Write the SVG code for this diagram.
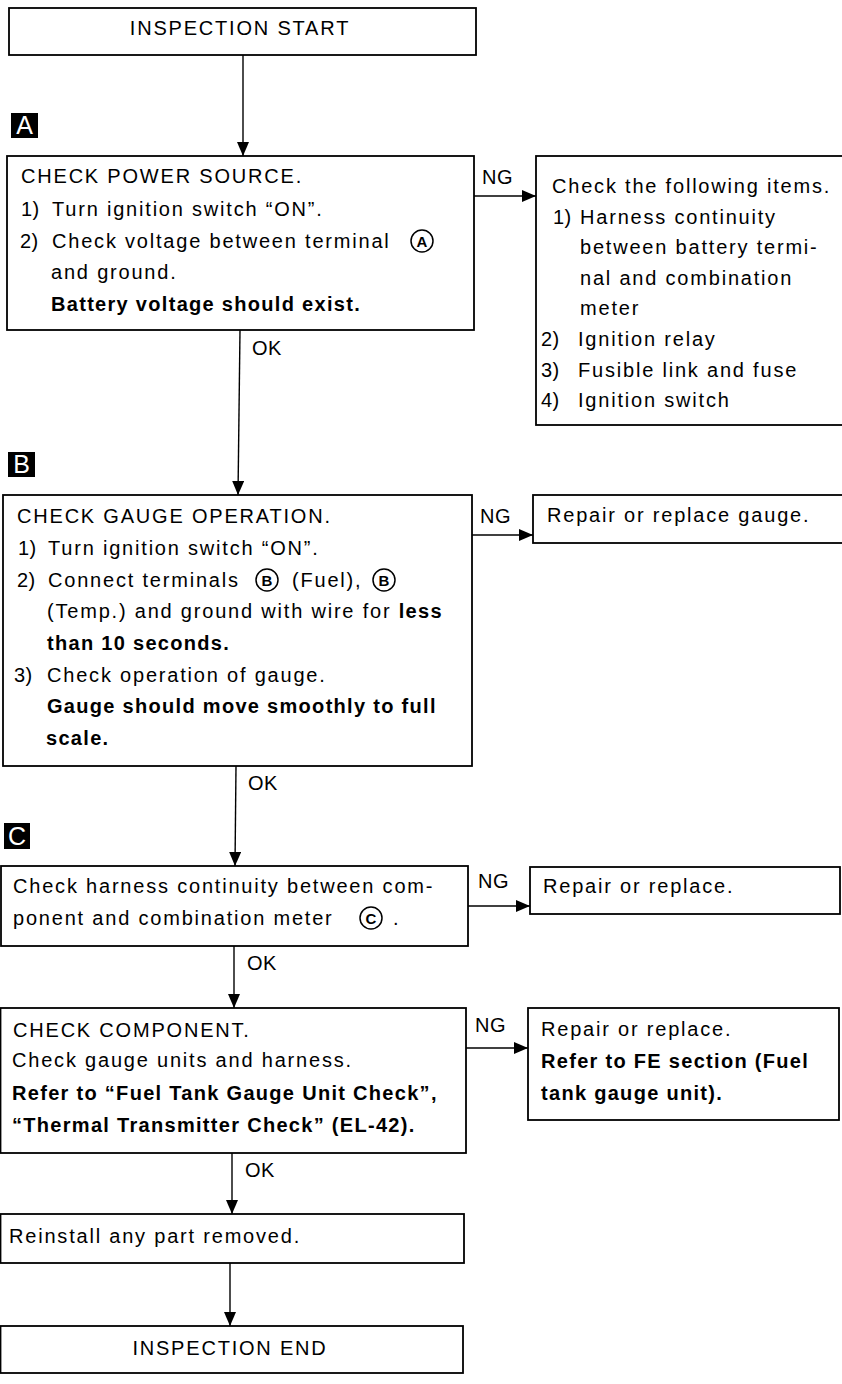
<svg xmlns="http://www.w3.org/2000/svg" width="842" height="1384" viewBox="0 0 842 1384">
  <defs>
    <style>
      .box { fill: #fff; stroke: #000; stroke-width: 1.8; }
      .conn { fill: none; stroke: #000; stroke-width: 1.4; }
      text { font-family: "Liberation Sans", Arial, Helvetica, sans-serif; font-size: 20px; fill: #000; letter-spacing: 1.8px; }
      .b { font-weight: bold; letter-spacing: 1.3px; }
      .c { text-anchor: middle; }
      .lbl { letter-spacing: 0.5px; }
      .num { letter-spacing: 0.5px; }
      .badge rect { fill: #000; }
      .badge text { fill: #fff; font-size: 25px; text-anchor: middle; letter-spacing: 0; }
      .term circle { fill: none; stroke: #000; stroke-width: 1.5; }
      .term text { font-size: 15px; font-weight: bold; text-anchor: middle; letter-spacing: 0; }
    </style>
    <marker id="arrow" viewBox="0 0 14 12" refX="14" refY="6" markerWidth="14" markerHeight="12" markerUnits="userSpaceOnUse" orient="auto">
      <path d="M0,0 L14,6 L0,12 Z" fill="#000"/>
    </marker>
  </defs>

  <rect x="0" y="0" width="842" height="1384" fill="#fff"/>

  <!-- connectors -->
  <g id="connectors">
    <line class="conn" x1="243" y1="55" x2="243" y2="156" marker-end="url(#arrow)"/>
    <line class="conn" x1="240" y1="330" x2="238" y2="495" marker-end="url(#arrow)"/>
    <line class="conn" x1="236" y1="766" x2="235" y2="866" marker-end="url(#arrow)"/>
    <line class="conn" x1="234" y1="946" x2="234" y2="1008" marker-end="url(#arrow)"/>
    <line class="conn" x1="232" y1="1153" x2="232" y2="1214" marker-end="url(#arrow)"/>
    <line class="conn" x1="230" y1="1263" x2="230" y2="1326" marker-end="url(#arrow)"/>

    <line class="conn" x1="474" y1="196" x2="536" y2="196" marker-end="url(#arrow)"/>
    <line class="conn" x1="472" y1="535" x2="533" y2="535" marker-end="url(#arrow)"/>
    <line class="conn" x1="468" y1="906" x2="530" y2="906" marker-end="url(#arrow)"/>
    <line class="conn" x1="466" y1="1048" x2="528" y2="1048" marker-end="url(#arrow)"/>

    <text class="lbl" x="252" y="355">OK</text>
    <text class="lbl" x="248" y="790">OK</text>
    <text class="lbl" x="247" y="970">OK</text>
    <text class="lbl" x="245" y="1177">OK</text>

    <text class="lbl" x="482" y="184">NG</text>
    <text class="lbl" x="480" y="523">NG</text>
    <text class="lbl" x="478" y="888">NG</text>
    <text class="lbl" x="475" y="1032">NG</text>
  </g>

  <!-- step badges -->
  <g id="badge-a" class="badge">
    <rect x="11" y="113" width="27" height="25"/>
    <text x="24.5" y="134">A</text>
  </g>
  <g id="badge-b" class="badge">
    <rect x="8" y="452" width="27" height="25"/>
    <text x="21.5" y="473">B</text>
  </g>
  <g id="badge-c" class="badge">
    <rect x="4" y="823" width="26" height="26"/>
    <text x="17" y="845">C</text>
  </g>

  <g id="start">
    <rect class="box" x="9" y="8" width="467" height="47"/>
    <text class="c" x="240" y="35">INSPECTION START</text>
  </g>

  <g id="check-power">
    <rect class="box" x="7" y="156" width="467" height="174"/>
    <text x="21" y="183">CHECK POWER SOURCE.</text>
    <text class="num" x="21" y="216">1)</text>
    <text x="52" y="216">Turn ignition switch “ON”.</text>
    <text class="num" x="20" y="248">2)</text>
    <text x="52" y="248">Check voltage between terminal</text>
    <g class="term">
      <circle cx="422" cy="241" r="11"/>
      <text x="422" y="246.5">A</text>
    </g>
    <text x="51" y="279">and ground.</text>
    <text class="b" x="51" y="311">Battery voltage should exist.</text>
  </g>

  <g id="power-ng">
    <rect class="box" x="536" y="156" width="310" height="269"/>
    <text x="552" y="193">Check the following items.</text>
    <text class="num" x="553" y="224">1)</text>
    <text x="580" y="224">Harness continuity</text>
    <text x="580" y="254">between battery termi-</text>
    <text x="580" y="285">nal and combination</text>
    <text x="580" y="315">meter</text>
    <text class="num" x="541" y="346">2)</text>
    <text x="578" y="346">Ignition relay</text>
    <text class="num" x="541" y="377">3)</text>
    <text x="578" y="377">Fusible link and fuse</text>
    <text class="num" x="541" y="407">4)</text>
    <text x="578" y="407">Ignition switch</text>
  </g>

  <g id="check-gauge">
    <rect class="box" x="3" y="495" width="469" height="271"/>
    <text x="17" y="523">CHECK GAUGE OPERATION.</text>
    <text class="num" x="18" y="555">1)</text>
    <text x="48" y="555">Turn ignition switch “ON”.</text>
    <text class="num" x="17" y="587">2)</text>
    <text x="48" y="587">Connect terminals</text>
    <g class="term">
      <circle cx="267" cy="580" r="11"/>
      <text x="267" y="585.5">B</text>
    </g>
    <text x="292" y="587">(Fuel),</text>
    <g class="term">
      <circle cx="384" cy="580" r="11"/>
      <text x="384" y="585.5">B</text>
    </g>
    <text x="47" y="618">(Temp.) and ground with wire for <tspan class="b">less</tspan></text>
    <text class="b" x="47" y="650">than 10 seconds.</text>
    <text class="num" x="14" y="682">3)</text>
    <text x="47" y="682">Check operation of gauge.</text>
    <text class="b" x="47" y="713">Gauge should move smoothly to full</text>
    <text class="b" x="46" y="745">scale.</text>
  </g>

  <g id="gauge-ng">
    <rect class="box" x="533" y="495" width="313" height="48"/>
    <text x="547" y="522">Repair or replace gauge.</text>
  </g>

  <g id="check-harness">
    <rect class="box" x="1" y="866" width="467" height="80"/>
    <text x="13" y="893">Check harness continuity between com-</text>
    <text x="13" y="925">ponent and combination meter</text>
    <g class="term">
      <circle cx="371" cy="918" r="11"/>
      <text x="371" y="923.5">C</text>
    </g>
    <text x="393" y="925">.</text>
  </g>

  <g id="harness-ng">
    <rect class="box" x="530" y="867" width="310" height="47"/>
    <text x="543" y="893">Repair or replace.</text>
  </g>

  <g id="check-component">
    <rect class="box" x="0.5" y="1008" width="465.5" height="145"/>
    <text x="13" y="1037">CHECK COMPONENT.</text>
    <text x="12" y="1067">Check gauge units and harness.</text>
    <text class="b" x="12" y="1100" letter-spacing="1.6">Refer to “Fuel Tank Gauge Unit Check”,</text>
    <text class="b" x="12" y="1132" letter-spacing="1.5">“Thermal Transmitter Check” (EL-42).</text>
  </g>

  <g id="component-ng">
    <rect class="box" x="528" y="1008" width="311" height="112"/>
    <text x="541" y="1036">Repair or replace.</text>
    <text class="b" x="541" y="1068">Refer to FE section (Fuel</text>
    <text class="b" x="541" y="1100">tank gauge unit).</text>
  </g>

  <g id="reinstall">
    <rect class="box" x="0.5" y="1214" width="463.5" height="49"/>
    <text x="9" y="1243">Reinstall any part removed.</text>
  </g>

  <g id="end">
    <rect class="box" x="0.5" y="1326" width="462.5" height="47"/>
    <text class="c" x="230" y="1355">INSPECTION END</text>
  </g>
</svg>
